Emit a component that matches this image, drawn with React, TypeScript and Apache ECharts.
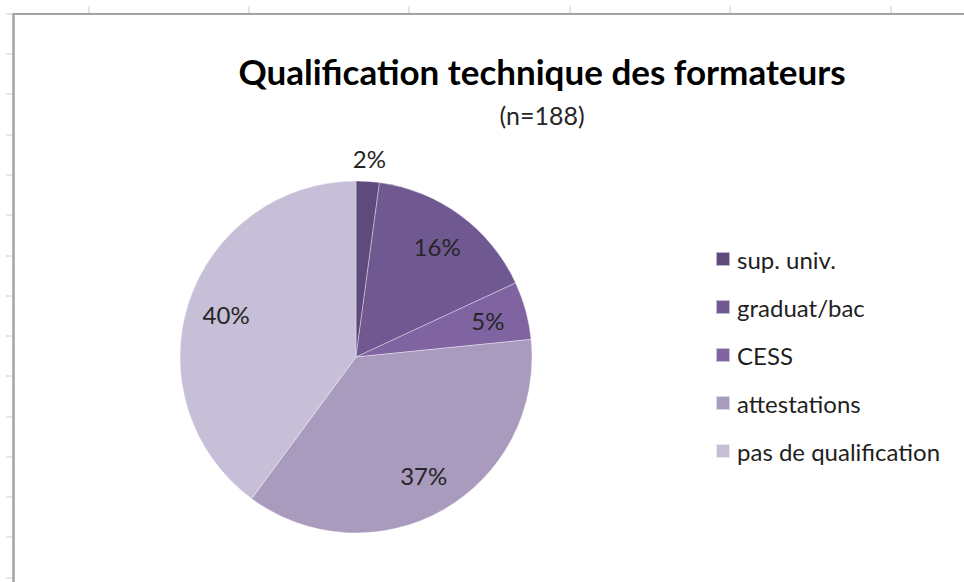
import React, { useEffect, useRef } from "react";
import * as echarts from "echarts";

const categories = ["sup. univ.", "graduat/bac", "CESS", "attestations", "pas de qualification"];
const counts = [4, 30, 10, 69, 75];
const colors = ["#5e4a7c", "#705890", "#8064a2", "#a99bbe", "#c6bfd7"];
const titleText = "Qualification technique des formateurs";
const subtitleText = "(n=188)";

const FONT = "Lato, 'Open Sans', sans-serif";

export default function App() {
  const ref = useRef<HTMLDivElement>(null);
  useEffect(() => {
    if (!ref.current) return;
    const chart = echarts.init(ref.current, null, { renderer: "svg" });
    const cx = 356;
    const cy = 357;
    const r = 176;

    const deco: any[] = [];
    deco.push({ type: "line", shape: { x1: 13, y1: 14, x2: 964, y2: 14 }, style: { stroke: "#a3a3a3", lineWidth: 2 }, z: 0 });
    deco.push({ type: "line", shape: { x1: 13.5, y1: 13, x2: 13.5, y2: 582 }, style: { stroke: "#a3a3a3", lineWidth: 2.5 }, z: 0 });
    [89, 249, 409, 570, 730, 891].forEach((x) => {
      deco.push({ type: "line", shape: { x1: x, y1: 6, x2: x, y2: 13 }, style: { stroke: "#c8ccd8", lineWidth: 1 }, z: 0 });
    });
    [14, 54, 94, 135, 175, 215, 256, 296, 336, 376, 417, 457, 497, 537, 578].forEach((y) => {
      deco.push({ type: "line", shape: { x1: 6, y1: y, x2: 12, y2: y }, style: { stroke: "#c8ccd8", lineWidth: 1 }, z: 0 });
    });

    const data = categories.map((c, i) => ({ name: c, value: counts[i], itemStyle: { color: colors[i] } }));
    const labelStyle = { color: "#262626", fontSize: 24, fontFamily: FONT };

    chart.setOption({
      animation: false,
      backgroundColor: "#ffffff",
      graphic: deco,
      title: {
        text: titleText,
        subtext: subtitleText,
        left: 542,
        top: 53,
        textAlign: "center",
        itemGap: 14,
        padding: 0,
        textStyle: { fontSize: 35, fontWeight: "bold", color: "#000000", fontFamily: FONT },
        subtextStyle: { fontSize: 25, color: "#262626", fontFamily: FONT },
      },
      legend: {
        orient: "vertical",
        left: 715,
        top: 246,
        padding: 0,
        icon: "rect",
        itemWidth: 14,
        itemHeight: 14,
        itemGap: 22,
        data: categories.map((c, i) => ({ name: c, itemStyle: { color: colors[i] } })),
        textStyle: { fontSize: 24, color: "#1f1f1f", fontFamily: FONT, lineHeight: 26, padding: [0, 0, 0, 2] },
        selectedMode: false,
      },
      series: [
        {
          type: "pie",
          center: [cx, cy],
          radius: [0, r],
          startAngle: 90,
          clockwise: true,
          data,
          label: { show: false },
          labelLine: { show: false },
          itemStyle: { borderColor: "rgba(255,255,255,0.6)", borderWidth: 0.6 },
          emphasis: { disabled: true },
          silent: true,
        },
        {
          type: "pie",
          center: [cx, cy],
          radius: [r * 0.52, r],
          startAngle: 90,
          clockwise: true,
          percentPrecision: 0,
          data: data.map((d, i) => ({
            name: d.name,
            value: d.value,
            itemStyle: { color: "rgba(0,0,0,0)" },
            label: { show: i !== 0 },
          })),
          label: { show: true, position: "inside", formatter: "{d}%", ...labelStyle },
          labelLine: { show: false },
          emphasis: { disabled: true },
          silent: true,
        },
        {
          type: "pie",
          center: [cx, cy],
          radius: [r + 8, r + 32],
          startAngle: 90,
          clockwise: true,
          percentPrecision: 0,
          data: data.map((d, i) => ({
            name: d.name,
            value: d.value,
            itemStyle: { color: "rgba(0,0,0,0)" },
            label: { show: i === 0 },
          })),
          label: { show: true, position: "inside", formatter: "{d}%", ...labelStyle },
          labelLine: { show: false },
          emphasis: { disabled: true },
          silent: true,
        },
      ],
    });
    return () => chart.dispose();
  }, []);
  return (
    <div
      ref={ref}
      style={{ position: "absolute", left: 0, top: 0, width: 964, height: 582, background: "#fff" }}
    />
  );
}
